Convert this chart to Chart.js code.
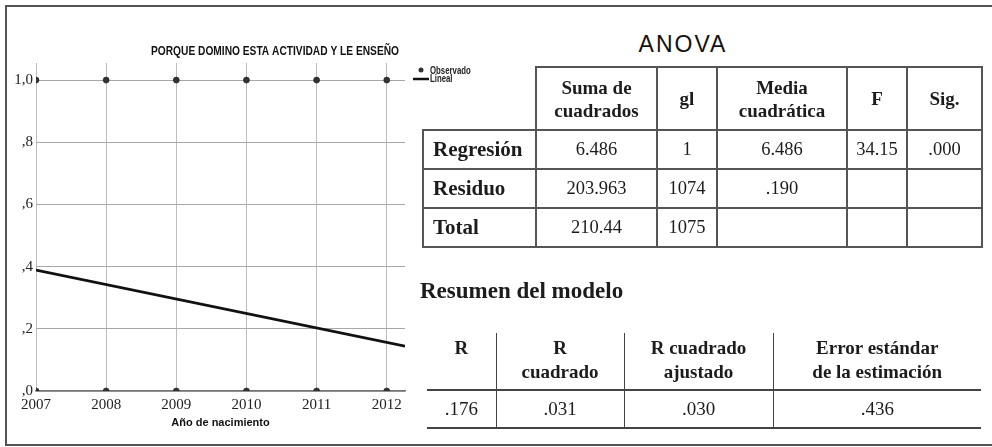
<!DOCTYPE html>
<html>
<head>
<meta charset="utf-8">
<script src="https://cdn.jsdelivr.net/npm/chart.js@4.4.0/dist/chart.umd.min.js"></script>
<style>
  html, body { margin: 0; padding: 0; background: #fff; }
  body { width: 992px; height: 447px; position: relative; overflow: hidden; font-family: "Liberation Serif", serif; color: #1c1c1c; }
  #frame { position: absolute; left: 5px; top: 5px; width: 1000px; height: 437px; border: 2px solid #555; border-right: none; }
  #chartBox { position: absolute; left: 0; top: 0; width: 550px; height: 447px; }
  #anovaTitle { position: absolute; left: 583px; width: 200px; top: 31px; text-align: center; font: 23px "Liberation Sans", sans-serif; letter-spacing: 2px; color: #111; }
  table { border-collapse: collapse; position: absolute; table-layout: fixed; }
  #anova { left: 422px; top: 66px; width: 559px; }
  #anova td, #anova th { border: 2px solid #555; text-align: center; padding: 0; }
  #anova th { font-size: 19px; line-height: 23px; height: 61px; }
  #anova td { font-size: 18.5px; height: 37px; }
  #anova td.lbl { text-align: left; padding-left: 9px; font-weight: bold; font-size: 21px; }
  #anova td.blank { border: none; }
  #resTitle { position: absolute; left: 420px; top: 278px; font: bold 23px "Liberation Serif", serif; color: #1c1c1c; }
  #res { left: 427px; top: 333px; width: 554px; }
  #res th { font-size: 19px; line-height: 24px; height: 53px; vertical-align: top; padding: 3px 0 0 0; border-bottom: 2px solid #444; }
  #res td { font-size: 19px; height: 36px; text-align: center; padding: 0; border-bottom: 2px solid #444; }
  #res th + th, #res td + td { border-left: 1.5px solid #444; }
</style>
</head>
<body>
<div id="frame"></div>
<div id="chartBox"><canvas id="chart"></canvas></div>
<div id="anovaTitle">ANOVA</div>
<table id="anova"></table>
<div id="resTitle">Resumen del modelo</div>
<table id="res"></table>
<script>
// datos del gráfico
const chartTitle = 'PORQUE DOMINO ESTA ACTIVIDAD Y LE ENSEÑO';
const xAxisTitle = 'Año de nacimiento';
const years = [2007, 2008, 2009, 2010, 2011, 2012];
const xTickLabels = ['2007', '2008', '2009', '2010', '2011', '2012'];
const observedHigh = [1, 1, 1, 1, 1, 1];
const observedLow = [0, 0, 0, 0, 0, 0];
const linealX = [2007, 2012.26];
const linealY = [0.389, 0.144];
const yTickValues = [0, 0.2, 0.4, 0.6, 0.8, 1.0];
const yTickLabels = [',0', ',2', ',4', ',6', ',8', '1,0'];

// tablas
const anovaHead = ['Suma de<br>cuadrados', 'gl', 'Media<br>cuadrática', 'F', 'Sig.'];
const anovaLabels = ['Regresión', 'Residuo', 'Total'];
const anovaSuma = ['6.486', '203.963', '210.44'];
const anovaGl = ['1', '1074', '1075'];
const anovaMedia = ['6.486', '.190', ''];
const anovaF = ['34.15', '', ''];
const anovaSig = ['.000', '', ''];
const anovaWidths = [113, 121, 60, 130, 60, 75];

const resHead = ['R', 'R<br>cuadrado', 'R cuadrado<br>ajustado', 'Error estándar<br>de la estimación'];
const resValues = ['.176', '.031', '.030', '.436'];
const resWidths = [69, 128, 149, 208];

function buildTables() {
  let h = '<colgroup>' + anovaWidths.map(w => `<col style="width:${w}px">`).join('') + '</colgroup>';
  h += '<tr><td class="blank"></td>' + anovaHead.map(t => `<th>${t}</th>`).join('') + '</tr>';
  anovaLabels.forEach((lbl, i) => {
    h += `<tr><td class="lbl">${lbl}</td><td>${anovaSuma[i]}</td><td>${anovaGl[i]}</td>` +
         `<td>${anovaMedia[i]}</td><td>${anovaF[i]}</td><td>${anovaSig[i]}</td></tr>`;
  });
  document.getElementById('anova').innerHTML = h;

  let r = '<colgroup>' + resWidths.map(w => `<col style="width:${w}px">`).join('') + '</colgroup>';
  r += '<tr>' + resHead.map(t => `<th>${t}</th>`).join('') + '</tr>';
  r += '<tr>' + resValues.map(v => `<td>${v}</td>`).join('') + '</tr>';
  document.getElementById('res').innerHTML = r;
}
buildTables();

const sans = '"Liberation Sans", sans-serif';
const serif = '"Liberation Serif", serif';

// texto condensado (no hay fuente "narrow" instalada)
function narrowText(ctx, text, x, y, size, align, squeeze) {
  ctx.save();
  ctx.font = 'bold ' + size + 'px ' + sans;
  ctx.textAlign = align;
  ctx.textBaseline = 'middle';
  ctx.translate(x, y);
  ctx.scale(squeeze, 1);
  ctx.fillText(text, 0, 0);
  ctx.restore();
}

// título y leyenda fuera del área del gráfico
const sideText = {
  id: 'sideText',
  afterDraw(chart) {
    const { ctx, chartArea } = chart;
    const ds = chart.data.datasets;
    const x0 = chartArea.right;
    const y0 = chartArea.top;
    ctx.save();
    ctx.fillStyle = '#111';
    narrowText(ctx, chartTitle, x0 - 130, y0 - 11, 12, 'center', 0.85);
    // Observado
    ctx.beginPath();
    ctx.arc(x0 + 16, y0 + 7, 2.5, 0, Math.PI * 2);
    ctx.fillStyle = ds[0].backgroundColor;
    ctx.fill();
    ctx.fillStyle = '#222';
    narrowText(ctx, ds[0].label, x0 + 25, y0 + 8, 10, 'left', 0.78);
    // Lineal
    ctx.beginPath();
    ctx.moveTo(x0 + 8, y0 + 16);
    ctx.lineTo(x0 + 24, y0 + 16);
    ctx.strokeStyle = ds[1].borderColor;
    ctx.lineWidth = 2.5;
    ctx.stroke();
    narrowText(ctx, ds[1].label, x0 + 25, y0 + 16, 10, 'left', 0.78);
    ctx.restore();
  }
};

const observedPoints = years.map((x, i) => ({ x, y: observedHigh[i] }))
  .concat(years.map((x, i) => ({ x, y: observedLow[i] })));
const linealPoints = linealX.map((x, i) => ({ x, y: linealY[i] }));

new Chart(document.getElementById('chart'), {
  type: 'scatter',
  data: {
    datasets: [
      {
        label: 'Observado',
        data: observedPoints,
        backgroundColor: '#333',
        borderColor: '#1a1a1a',
        borderWidth: 0.6,
        pointRadius: 3,
        showLine: false
      },
      {
        label: 'Lineal',
        data: linealPoints,
        showLine: true,
        borderColor: '#111',
        borderWidth: 2.7,
        pointRadius: 0
      }
    ]
  },
  options: {
    responsive: true,
    maintainAspectRatio: false,
    animation: false,
    layout: { padding: { left: 0, right: 145, top: 63, bottom: 0 } },
    plugins: {
      legend: { display: false },
      tooltip: { enabled: false },
      title: { display: false }
    },
    scales: {
      x: {
        type: 'linear',
        min: 2007,
        max: 2012.26,
        afterBuildTicks: s => { s.ticks = years.map(v => ({ value: v })); },
        afterFit: s => { s.height = 56; },
        ticks: {
          callback: (v, i) => xTickLabels[i],
          color: '#222',
          font: { family: serif, size: 15 },
          padding: 5,
          maxRotation: 0,
          autoSkip: false
        },
        grid: { color: '#bdbdbd', lineWidth: 1, drawTicks: false },
        border: { color: '#777', width: 1.5 },
        title: {
          display: true,
          text: xAxisTitle,
          color: '#111',
          font: { family: sans, size: 11, weight: 'bold', lineHeight: 1 },
          padding: { top: 0, bottom: 19 }
        }
      },
      y: {
        min: 0,
        max: 1.055,
        afterBuildTicks: s => { s.ticks = yTickValues.map(v => ({ value: v })); },
        afterFit: s => { s.width = 36; },
        ticks: {
          callback: (v, i) => yTickLabels[i],
          color: '#222',
          font: { family: serif, size: 15 },
          padding: 3
        },
        grid: { color: '#a8a8a8', lineWidth: 1, drawTicks: false },
        border: { display: false }
      }
    }
  },
  plugins: [sideText]
});
</script>
</body>
</html>
